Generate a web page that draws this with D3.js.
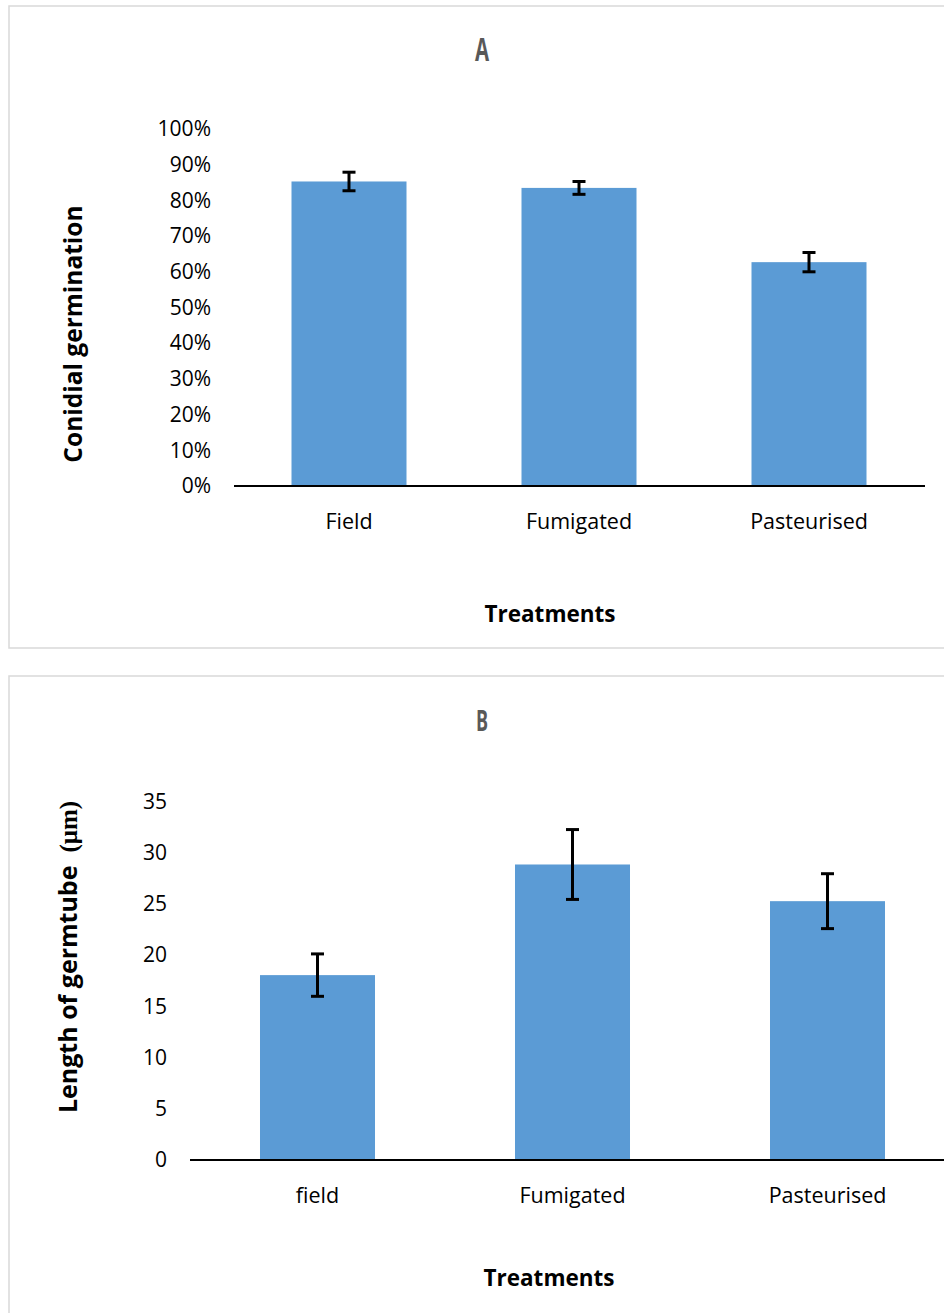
<!DOCTYPE html>
<html>
<head>
<meta charset="utf-8">
<script src="https://cdn.jsdelivr.net/npm/d3@7"></script>
<style>
  html, body { margin: 0; padding: 0; background: #fff; }
  svg { display: block; }
  text { font-family: "Open Sans", "Noto Sans", sans-serif; }
</style>
</head>
<body>
<svg id="chart" width="944" height="1313"></svg>
<script>
// Panel A: conidial germination (fraction) per treatment
const categoriesA = ["Field", "Fumigated", "Pasteurised"];
const germination = [0.853, 0.835, 0.627];
const germinationErr = [0.026, 0.018, 0.027];
const ticksA = [0, 0.1, 0.2, 0.3, 0.4, 0.5, 0.6, 0.7, 0.8, 0.9, 1.0];

// Panel B: germ tube length (µm) per treatment
const categoriesB = ["field", "Fumigated", "Pasteurised"];
const tubeLength = [18.05, 28.85, 25.27];
const tubeLengthErr = [2.07, 3.41, 2.68];
const ticksB = [0, 5, 10, 15, 20, 25, 30, 35];

const svg = d3.select("#chart");
const barColor = "#5b9bd5";
const frameColor = "#d9d9d9";

function panel(opts) {
  const g = svg.append("g");

  // chart frame
  g.append("rect")
    .attr("x", opts.frame[0]).attr("y", opts.frame[1])
    .attr("width", opts.frame[2]).attr("height", opts.frame[3])
    .attr("fill", "#fff").attr("stroke", frameColor).attr("stroke-width", 1.5);

  const x = d3.scaleBand()
    .domain(opts.categories)
    .range(opts.xRange)
    .paddingInner(opts.padInner)
    .paddingOuter(opts.padInner / 2);

  const y = d3.scaleLinear()
    .domain(opts.yDomain)
    .range(opts.yRange);

  // bars
  g.selectAll("rect.bar")
    .data(opts.values)
    .join("rect")
    .attr("class", "bar")
    .attr("x", (d, i) => x(opts.categories[i]))
    .attr("y", d => y(d))
    .attr("width", x.bandwidth())
    .attr("height", d => y(0) - y(d))
    .attr("fill", barColor);

  // error bars
  const capHalf = 6.5;
  const eg = g.append("g").attr("stroke", "#000").attr("stroke-width", 3);
  opts.values.forEach((v, i) => {
    const cx = x(opts.categories[i]) + x.bandwidth() / 2;
    const lo = y(v - opts.errors[i]);
    const hi = y(v + opts.errors[i]);
    eg.append("line").attr("x1", cx).attr("x2", cx).attr("y1", lo).attr("y2", hi);
    eg.append("line").attr("x1", cx - capHalf).attr("x2", cx + capHalf).attr("y1", lo).attr("y2", lo);
    eg.append("line").attr("x1", cx - capHalf).attr("x2", cx + capHalf).attr("y1", hi).attr("y2", hi);
  });

  // y axis: labels only
  const yAxis = d3.axisLeft(y)
    .tickValues(opts.ticks)
    .tickFormat(opts.tickFormat)
    .tickSize(0)
    .tickPadding(0);
  const ya = g.append("g")
    .attr("transform", `translate(${opts.yLabelX},0)`)
    .call(yAxis);
  ya.select(".domain").remove();
  ya.selectAll("text")
    .attr("font-family", "'Open Sans', sans-serif")
    .attr("font-size", 21)
    .attr("fill", "#000");

  // x axis
  const xAxis = d3.axisBottom(x).tickSize(0).tickPadding(opts.xLabelPad);
  const xa = g.append("g")
    .attr("transform", `translate(0,${y(0)})`)
    .call(xAxis);
  xa.select(".domain")
    .attr("d", `M${opts.xRange[0]},0H${opts.axisEnd}`)
    .attr("stroke", "#000").attr("stroke-width", 2);
  xa.selectAll("text")
    .attr("font-family", "'Open Sans', sans-serif")
    .attr("font-size", 21.5)
    .attr("fill", "#000");

  // panel letter
  g.append("text")
    .attr("transform", `translate(${opts.letterPos[0]},${opts.letterPos[1]}) scale(0.62,1)`)
    .attr("text-anchor", "middle")
    .attr("font-weight", "bold")
    .attr("font-size", opts.letterSize)
    .attr("fill", "#595959")
    .text(opts.letter);

  // x title
  g.append("text")
    .attr("x", opts.xTitlePos[0]).attr("y", opts.xTitlePos[1])
    .attr("text-anchor", "middle")
    .attr("font-weight", "bold")
    .attr("font-size", 22.5)
    .attr("fill", "#000")
    .text("Treatments");

  // y title
  const yt = g.append("text")
    .attr("transform", `translate(${opts.yTitlePos[0]},${opts.yTitlePos[1]}) rotate(-90)`)
    .attr("text-anchor", "middle")
    .attr("font-weight", "bold")
    .attr("font-size", opts.yTitleSize)
    .attr("fill", "#000");
  opts.yTitle(yt);
}

panel({
  frame: [9, 6, 960, 642],
  categories: categoriesA,
  values: germination,
  errors: germinationErr,
  ticks: ticksA,
  tickFormat: d3.format(".0%"),
  xRange: [234, 924],
  axisEnd: 925,
  padInner: 0.5,
  yDomain: [0, 1],
  yRange: [486, 129],
  yLabelX: 211,
  xLabelPad: 28,
  letter: "A",
  letterPos: [482, 61],
  letterSize: 33,
  xTitlePos: [550, 622],
  yTitlePos: [82, 334],
  yTitleSize: 24.5,
  yTitle: t => t.text("Conidial germination")
});

panel({
  frame: [9, 676, 960, 700],
  categories: categoriesB,
  values: tubeLength,
  errors: tubeLengthErr,
  ticks: ticksB,
  tickFormat: d3.format("d"),
  xRange: [190, 955],
  axisEnd: 955,
  padInner: 0.549,
  yDomain: [0, 35],
  yRange: [1160, 801.5],
  yLabelX: 167,
  xLabelPad: 28,
  letter: "B",
  letterPos: [482, 731],
  letterSize: 29,
  xTitlePos: [549, 1286],
  yTitlePos: [77, 957],
  yTitleSize: 25,
  yTitle: t => {
    t.append("tspan").text("Length of germtube\u00a0 ");
    t.append("tspan").attr("font-family", "'Liberation Serif', 'DejaVu Serif', serif").text("(\u03bcm)");
  }
});
</script>
</body>
</html>
